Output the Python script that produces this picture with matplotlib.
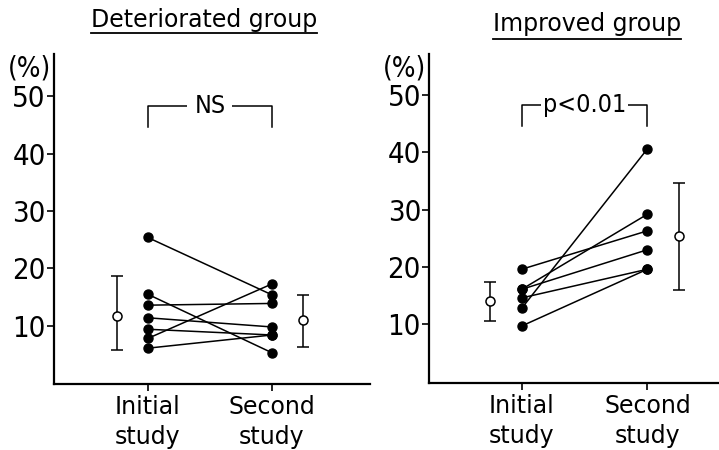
import matplotlib
matplotlib.use("Agg")
import matplotlib.pyplot as plt
from matplotlib.lines import Line2D

# valeurs (%)
det_initial = [25.4, 15.5, 13.6, 11.4, 9.4, 7.8, 6.1]
det_second = [15.4, 5.3, 13.9, 9.8, 8.4, 17.3, 8.4]
det_mean = [11.7, 11.0]
det_sd_low = [5.8, 6.3]
det_sd_high = [18.6, 15.4]

imp_initial = [19.6, 16.1, 16.1, 14.6, 12.8, 9.7]
imp_second = [26.3, 29.2, 23.0, 19.6, 40.6, 19.6]
imp_mean = [14.1, 25.4]
imp_sd_low = [10.5, 16.0]
imp_sd_high = [17.4, 34.7]

xlabels = ["Initial\nstudy", "Second\nstudy"]
yticks = [10, 20, 30, 40, 50]

W, H = 719, 450

fig = plt.figure(figsize=(W / 100, H / 100), dpi=100)


def panel(rect, xlim, ylim, initial, second, mean, lo, hi, label, gap, title, title_x, title_y, under_y):
    ax = fig.add_axes([rect[0] / W, 1 - rect[3] / H, (rect[2] - rect[0]) / W, (rect[3] - rect[1]) / H])
    for a, b in zip(initial, second):
        ax.plot([1, 2], [a, b], color="black", lw=1.1, marker="o", ms=6.5,
                mfc="black", mec="black", clip_on=False)
    xm = [0.75, 2.25]
    ax.errorbar(xm, mean, yerr=[[m - l for m, l in zip(mean, lo)], [h - m for m, h in zip(mean, hi)]],
                fmt="o", color="black", mfc="white", mec="black", ms=6.5, mew=1.1,
                elinewidth=1.1, capsize=4, capthick=1.1, ecolor="black")
    ax.set_xlim(*xlim)
    ax.set_ylim(*ylim)
    for s in ["top", "right"]:
        ax.spines[s].set_visible(False)
    for s in ["left", "bottom"]:
        ax.spines[s].set_linewidth(1.6)
    ax.set_xticks([1, 2])
    ax.set_xticklabels(xlabels, fontsize=17, family="DejaVu Sans", linespacing=1.3)
    ax.set_yticks(yticks)
    ax.set_yticklabels([str(v) for v in yticks], fontsize=21, family="DejaVu Sans",
                       stretch="condensed")
    ax.tick_params(axis="y", length=5, width=1.2, pad=1)
    ax.tick_params(axis="x", length=5, width=1.2, pad=3)
    # crochet de comparaison
    ax.plot([1, 1, 2, 2], [44.6, 48.3, 48.3, 44.6], color="black", lw=1.1)
    ax.text(1.5, 48.3, label, ha="center", va="center", fontsize=18, family="DejaVu Sans",
            stretch="condensed", bbox=dict(facecolor="white", edgecolor="none", pad=gap))
    ax.text(-0.01, 1.0, "(%)", transform=ax.transAxes, ha="right", va="top",
            fontsize=20, family="DejaVu Sans", stretch="condensed")
    t = fig.text(title_x / W, 1 - title_y / H, title, ha="center", va="baseline",
                 fontsize=17, family="DejaVu Sans")
    fig.canvas.draw()
    bb = t.get_window_extent()
    fig.add_artist(Line2D([bb.x0 / W, bb.x1 / W], [1 - under_y / H] * 2,
                          color="black", lw=1.3, transform=fig.transFigure))
    return ax


panel((54, 54, 370, 384.3), (0.244, 2.79), (-0.2, 57.4),
      det_initial, det_second, det_mean, det_sd_low, det_sd_high,
      "NS", 5, "Deteriorated group", 204, 27, 33)
panel((429.3, 54.3, 719, 383.3), (0.264, 2.57), (-0.3, 57.1),
      imp_initial, imp_second, imp_mean, imp_sd_low, imp_sd_high,
      "p<0.01", 1.5, "Improved group", 587, 31, 39)

fig.savefig("out.png", dpi=100)
